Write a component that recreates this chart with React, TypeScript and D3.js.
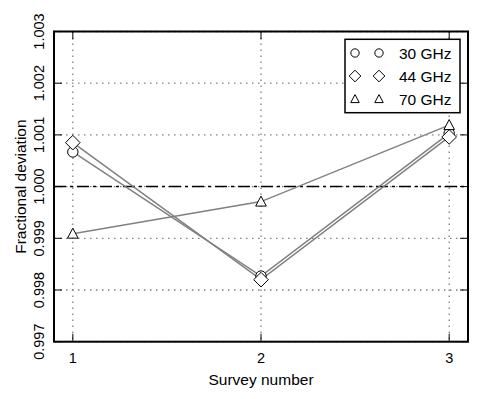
import React from "react";
import * as d3 from "d3";

const surveys = [1, 2, 3];
const series30 = [1.00067, 0.99827, 1.00103];
const series44 = [1.00085, 0.9982, 1.00096];
const series70 = [0.99909, 0.99971, 1.00119];
const yTicks = [0.997, 0.998, 0.999, 1.0, 1.001, 1.002, 1.003];
const xTicks = [1, 2, 3];
const labels = ["30 GHz", "44 GHz", "70 GHz"];

const W = 480, H = 399;
const m = { left: 54, right: 468, top: 31.5, bottom: 341.7 };
const FONT = "'Liberation Sans', Arial, sans-serif";

function Marker({ type, x, y, k = 1 }: { type: string; x: number; y: number; k?: number }) {
  const s = { fill: "white", stroke: "black", strokeWidth: 1 };
  if (type === "circle") return <circle cx={x} cy={y} r={5.2 * k} {...s} />;
  if (type === "diamond") {
    const d = 7.3 * k;
    return <path d={`M${x},${y - d}L${x + d},${y}L${x},${y + d}L${x - d},${y}Z`} {...s} />;
  }
  const w = 5.3 * k;
  return <path d={`M${x},${y - 5.5 * k}L${x + w},${y + 4.5 * k}L${x - w},${y + 4.5 * k}Z`} {...s} />;
}

export default function App() {
  const x = d3.scaleLinear().domain([0.9, 3.1]).range([m.left, m.right]);
  const y = d3.scaleLinear().domain([0.997, 1.003]).range([m.bottom, m.top]);
  const line = d3.line<[number, number]>().x((d) => x(d[0])).y((d) => y(d[1]));
  const all = [
    { vals: series30, type: "circle" },
    { vals: series44, type: "diamond" },
    { vals: series70, type: "triangle" },
  ];
  const tl = 8;
  return (
    <svg width={W} height={H} style={{ position: "absolute", left: 0, top: 0 }}>
      <rect width={W} height={H} fill="white" />
      {yTicks.map((t) => (
        <line key={"gy" + t} x1={m.left} x2={m.right} y1={y(t)} y2={y(t)} stroke="#808080" strokeDasharray="1.5,4.5" strokeWidth={1.3} />
      ))}
      {xTicks.map((t) => (
        <line key={"gx" + t} y1={m.top} y2={m.bottom} x1={x(t)} x2={x(t)} stroke="#808080" strokeDasharray="1.5,4.5" strokeWidth={1.3} />
      ))}
      <line x1={m.left} x2={m.right} y1={y(1.0)} y2={y(1.0)} stroke="black" strokeWidth={1.5} strokeDasharray="12,4,3,4" />
      {all.map((s, i) => (
        <path key={"l" + i} d={line(surveys.map((v, j) => [v, s.vals[j]]) as [number, number][]) || ""} fill="none" stroke="#808080" strokeWidth={1.5} />
      ))}
      {all.map((s, i) =>
        surveys.map((v, j) => <Marker key={`m${i}${j}`} type={s.type} x={x(v)} y={y(s.vals[j])} />)
      )}
      {yTicks.map((t) => (
        <g key={"ty" + t}>
          <line x1={m.left} x2={m.left + tl} y1={y(t)} y2={y(t)} stroke="black" />
          <line x1={m.right} x2={m.right - tl} y1={y(t)} y2={y(t)} stroke="black" />
          <text transform={`translate(${m.left - 10},${y(t)}) rotate(-90)`} textAnchor="middle" fontFamily={FONT} fontSize={14.5} fill="black">
            {t.toFixed(3)}
          </text>
        </g>
      ))}
      {xTicks.map((t) => (
        <g key={"tx" + t}>
          <line y1={m.bottom} y2={m.bottom - tl} x1={x(t)} x2={x(t)} stroke="black" />
          <line y1={m.top} y2={m.top + tl} x1={x(t)} x2={x(t)} stroke="black" />
          <text x={x(t)} y={m.bottom + 21} textAnchor="middle" fontFamily={FONT} fontSize={14.5} fill="black">
            {t}
          </text>
        </g>
      ))}
      <rect x={m.left} y={m.top} width={m.right - m.left} height={m.bottom - m.top} fill="none" stroke="black" strokeWidth={2} />
      <text x={(m.left + m.right) / 2} y={385} textAnchor="middle" fontFamily={FONT} fontSize={15.5} fill="black">Survey number</text>
      <text transform={`translate(26,${(m.top + m.bottom) / 2}) rotate(-90)`} textAnchor="middle" fontFamily={FONT} fontSize={15.5} fill="black">Fractional deviation</text>
      <rect x={345} y={39.3} width={115} height={73.4} fill="white" stroke="black" strokeWidth={1.5} />
      {labels.map((lab, i) => {
        const ly = 53 + i * 23;
        return (
          <g key={lab}>
            <Marker type={all[i].type} x={355} y={ly} k={0.8} />
            <Marker type={all[i].type} x={379} y={ly} k={0.8} />
            <text x={399} y={ly + 5.5} fontFamily={FONT} fontSize={15.5} fill="black">{lab}</text>
          </g>
        );
      })}
    </svg>
  );
}
